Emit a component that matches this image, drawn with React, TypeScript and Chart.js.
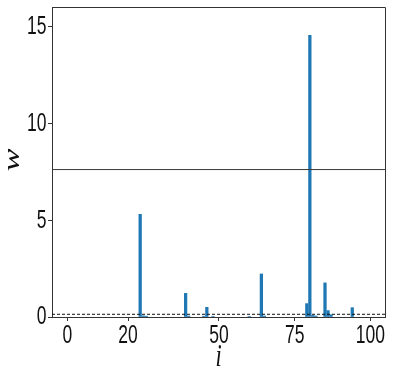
import { useEffect, useRef } from 'react';
import { Chart, registerables } from 'chart.js';

Chart.register(...registerables);

// Sparse weights: index i -> weight w
const BAR_INDEX = [24, 25, 26, 39, 40, 45, 46, 48, 60, 64, 65, 79, 80, 81, 82, 85, 86, 87, 94];
const BAR_WEIGHT = [5.3, 0.06, 0.04, 1.22, 0.05, 0.04, 0.5, 0.03, 0.03, 2.22, 0.05, 0.69, 14.54, 0.08, 0.05, 1.76, 0.33, 0.12, 0.48];

const X_TICKS = [0, 20, 50, 75, 100];
const Y_TICKS = [0, 5, 10, 15];
const X_RANGE = [-5.1, 104.8];
const Y_RANGE = [0, 16];
const SOLID_LEVEL = 7.61;
const DASHED_LEVEL = 0.14;
const X_TITLE = 'i';
const Y_TITLE = 'w';

const TICK_FONT = "'Liberation Sans', 'DejaVu Sans', sans-serif";
const TITLE_FONT = "'Liberation Serif', 'DejaVu Serif', serif";
const AXIS_COLOR = '#333333';
const TEXT_COLOR = '#111111';
const SQUEEZE = 0.7;

const framePlugin = {
  id: 'frame',
  afterDatasetsDraw(chart: any) {
    const { ctx, chartArea } = chart;
    ctx.save();
    ctx.strokeStyle = AXIS_COLOR;
    ctx.lineWidth = 1;
    ctx.beginPath();
    ctx.moveTo(chartArea.left, chartArea.top + 0.5);
    ctx.lineTo(chartArea.right + 0.5, chartArea.top + 0.5);
    ctx.lineTo(chartArea.right + 0.5, chartArea.bottom);
    ctx.stroke();
    ctx.restore();
  },
};

// Condensed tick labels and axis titles (real canvas text)
const labelPlugin = {
  id: 'condensedLabels',
  afterDraw(chart: any) {
    const { ctx, chartArea } = chart;
    const xs = chart.scales.x;
    const ys = chart.scales.y;
    ctx.save();
    ctx.fillStyle = TEXT_COLOR;
    ctx.font = `25px ${TICK_FONT}`;
    ctx.textBaseline = 'middle';
    ctx.textAlign = 'center';
    X_TICKS.forEach((v) => {
      const px = xs.getPixelForValue(v);
      ctx.save();
      ctx.translate(px, chartArea.bottom + 19);
      ctx.scale(SQUEEZE, 1);
      ctx.fillText(String(v), 0, 0);
      ctx.restore();
    });
    ctx.textAlign = 'right';
    Y_TICKS.forEach((v) => {
      const py = ys.getPixelForValue(v);
      ctx.save();
      ctx.translate(chartArea.left - 5.5, py + 0.5);
      ctx.scale(SQUEEZE, 1);
      ctx.fillText(String(v), 0, 0);
      ctx.restore();
    });
    // x title
    ctx.textAlign = 'center';
    ctx.font = `italic 32px ${TITLE_FONT}`;
    ctx.save();
    ctx.translate((chartArea.left + chartArea.right) / 2, 358);
    ctx.scale(SQUEEZE, 1);
    ctx.fillText(X_TITLE, 0, 0);
    ctx.restore();
    // y title
    ctx.font = `italic 34px ${TITLE_FONT}`;
    ctx.save();
    ctx.translate(13, (chartArea.top + chartArea.bottom) / 2 - 2);
    ctx.scale(SQUEEZE, 1);
    ctx.rotate(-Math.PI / 2);
    ctx.fillText(Y_TITLE, 0, 0);
    ctx.restore();
    ctx.restore();
  },
};

export default function App() {
  const canvasRef = useRef<HTMLCanvasElement | null>(null);

  useEffect(() => {
    document.body.style.margin = '0';
    const canvas = canvasRef.current;
    if (!canvas) return;

    const bars = BAR_INDEX.map((x, k) => ({ x, y: BAR_WEIGHT[k] }));

    const chart = new Chart(canvas, {
      type: 'bar',
      data: {
        datasets: [
          {
            type: 'line',
            data: [
              { x: X_RANGE[0], y: SOLID_LEVEL },
              { x: X_RANGE[1], y: SOLID_LEVEL },
            ],
            borderColor: '#3a3a3a',
            borderWidth: 1,
            pointRadius: 0,
            order: 0,
          } as any,
          {
            type: 'line',
            data: [
              { x: X_RANGE[0], y: DASHED_LEVEL },
              { x: X_RANGE[1], y: DASHED_LEVEL },
            ],
            borderColor: '#111111',
            borderWidth: 1,
            borderDash: [3, 2],
            pointRadius: 0,
            order: 0,
          } as any,
          {
            type: 'bar',
            data: bars,
            backgroundColor: '#1f77b4',
            borderWidth: 0,
            barThickness: 2.6,
            order: 1,
          } as any,
        ],
      },
      options: {
        animation: false,
        responsive: false,
        devicePixelRatio: 1,
        layout: { padding: { top: 7, right: 20, left: 0, bottom: 0 } },
        plugins: { legend: { display: false }, tooltip: { enabled: false } },
        scales: {
          x: {
            type: 'linear',
            min: X_RANGE[0],
            max: X_RANGE[1],
            offset: false,
            afterBuildTicks: (scale: any) => {
              scale.ticks = X_TICKS.map((v) => ({ value: v }));
            },
            afterFit: (scale: any) => {
              scale.height = 56;
              scale.paddingLeft = 0;
              scale.paddingRight = 0;
            },
            grid: {
              display: true,
              drawOnChartArea: false,
              drawTicks: true,
              tickLength: 4,
              color: AXIS_COLOR,
              offset: false,
            },
            border: { display: true, color: AXIS_COLOR, width: 1 },
            ticks: { display: false, autoSkip: false, maxRotation: 0 },
            title: { display: false },
          },
          y: {
            type: 'linear',
            min: Y_RANGE[0],
            max: Y_RANGE[1],
            afterBuildTicks: (scale: any) => {
              scale.ticks = Y_TICKS.map((v) => ({ value: v }));
            },
            afterFit: (scale: any) => {
              scale.width = 52;
              scale.paddingTop = 0;
              scale.paddingBottom = 0;
            },
            grid: {
              display: true,
              drawOnChartArea: false,
              drawTicks: true,
              tickLength: 4,
              color: AXIS_COLOR,
            },
            border: { display: true, color: AXIS_COLOR, width: 1 },
            ticks: { display: false },
            title: { display: false },
          },
        },
      },
      plugins: [framePlugin, labelPlugin],
    });

    return () => chart.destroy();
  }, []);

  return (
    <div style={{ width: 405, height: 373 }}>
      <canvas ref={canvasRef} width={405} height={373} style={{ display: 'block' }} />
    </div>
  );
}
